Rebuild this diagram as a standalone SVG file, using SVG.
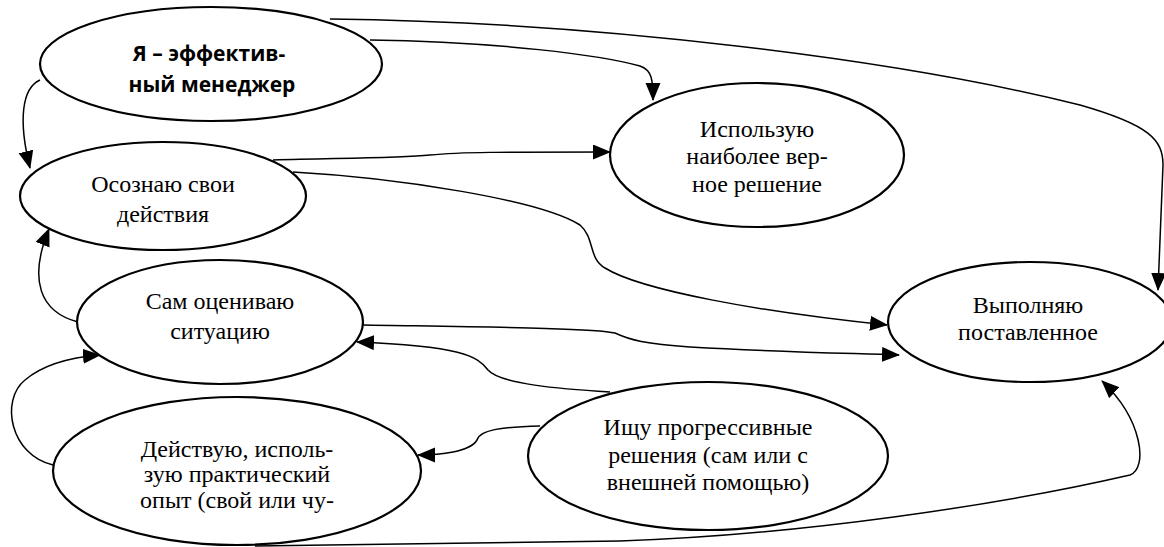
<svg xmlns="http://www.w3.org/2000/svg" width="1164" height="547" viewBox="0 0 1164 547">
<style>
.node ellipse{fill:#fff;stroke:#000;stroke-width:2.2}
</style>
<defs>
<marker id="arr" markerUnits="userSpaceOnUse" markerWidth="20" markerHeight="16" refX="17" refY="7.5" orient="auto">
<path d="M0,0 L18,7.5 L0,15 z" fill="#000"/>
</marker>
</defs>
<rect width="1164" height="547" fill="#fff"/>
<g id="connectors" fill="none" stroke="#000" stroke-width="1.5" marker-end="url(#arr)">
<path d="M330,19 C600,22 900,60 1080,105 C1150,125 1163,140 1163,165 L1158,290" marker-end="url(#arr)"/>
<path d="M370,40 C500,42 600,55 640,66 C652,70 653,80 653,100" marker-end="url(#arr)"/>
<path d="M40,80 C22,88 18,120 30,168" marker-end="url(#arr)"/>
<path d="M273,160 C350,158 400,158 430,155 C460,152 500,152 610,152" marker-end="url(#arr)"/>
<path d="M293,172 C400,178 540,200 580,225 C595,238 588,258 605,268 C640,290 760,312 887,325" marker-end="url(#arr)"/>
<path d="M363,325 C480,327 595,328 615,333 C630,340 645,344 690,347 C780,352 840,353 899,355" marker-end="url(#arr)"/>
<path d="M610,392 C560,389 500,384 488,370 C478,356 460,346 357,342" marker-end="url(#arr)"/>
<path d="M540,426 C500,427 480,430 477,440 C470,452 440,455 418,455" marker-end="url(#arr)"/>
<path d="M255,546 L620,541 C800,535 1000,505 1130,475 C1148,468 1143,420 1102,381" marker-end="url(#arr)"/>
<path d="M78,322 C40,312 28,280 49,229" marker-end="url(#arr)"/>
<path d="M53,465 C10,455 0,400 25,380 C45,363 75,357 100,355" marker-end="url(#arr)"/>
</g>
<g id="n1" class="node" font-family="Open Sans, Liberation Sans, sans-serif" font-size="21" font-weight="bold" text-anchor="middle" fill="#000">
<ellipse cx="211" cy="64" rx="171" ry="57"/>
<text x="209" y="61">Я – эффектив-</text>
<text x="212" y="92">ный менеджер</text>
</g>
<g font-family="Liberation Serif, DejaVu Serif, serif" font-size="24" text-anchor="middle" fill="#000">
<g id="n2" class="node">
<ellipse cx="163" cy="196" rx="143" ry="54"/>
<text x="163" y="192">Осознаю свои</text>
<text x="163" y="222">действия</text>
</g>
<g id="n3" class="node">
<ellipse cx="757" cy="155" rx="147" ry="72"/>
<text x="757" y="137">Использую</text>
<text x="757" y="164">наиболее вер-</text>
<text x="757" y="192">ное решение</text>
</g>
<g id="n4" class="node">
<ellipse cx="1030" cy="322" rx="142" ry="60"/>
<text x="1028" y="313">Выполняю</text>
<text x="1028" y="340">поставленное</text>
</g>
<g id="n5" class="node">
<ellipse cx="220" cy="322" rx="143" ry="62"/>
<text x="220" y="309">Сам оцениваю</text>
<text x="220" y="339">ситуацию</text>
</g>
<g id="n6" class="node">
<ellipse cx="237" cy="471" rx="184" ry="74"/>
<text x="237" y="457">Действую, исполь-</text>
<text x="237" y="482">зую практический</text>
<text x="237" y="508">опыт (свой или чу-</text>
</g>
<g id="n7" class="node">
<ellipse cx="708" cy="456" rx="180" ry="74"/>
<text x="708" y="435">Ищу прогрессивные</text>
<text x="708" y="463">решения (сам или с</text>
<text x="708" y="490">внешней помощью)</text>
</g>
</g>
</svg>
